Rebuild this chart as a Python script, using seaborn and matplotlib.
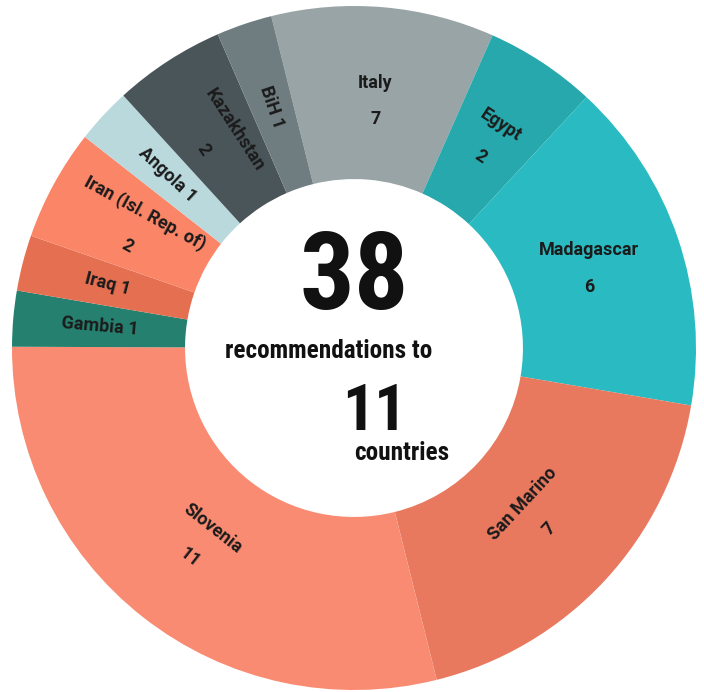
import matplotlib
matplotlib.use("Agg")
import matplotlib.pyplot as plt
import seaborn as sns
import numpy as np

# ---- data ----
countries = ["Italy", "Egypt", "Madagascar", "San Marino", "Slovenia", "Gambia",
             "Iraq", "Iran (Isl. Rep. of)", "Angola", "Kazakhstan", "BiH"]
slice_sizes = [4, 2, 6, 7, 11, 1, 1, 2, 1, 2, 1]          # arc sizes
label_counts = [7, 2, 6, 7, 11, 1, 1, 2, 1, 2, 1]          # numbers printed on slices
two_line = [True, True, True, True, True, False, False, True, False, True, False]
orient = ["h", "t", "h", "t", "t", "r", "r", "r", "r", "r", "r"]
colors = ["#98A4A6", "#26A8AC", "#29BBC1", "#E8795F", "#F98B72", "#25806F",
          "#E46F51", "#FB8567", "#B9D9DD", "#4A555A", "#6F7C80"]
total_recs = "38"
total_countries = "11"

sns.set_theme(style="white")
plt.rcParams["font.family"] = ["Roboto Condensed", "Liberation Sans Narrow", "Roboto", "DejaVu Sans"]

fig = plt.figure(figsize=(7.04, 6.92), dpi=100)
ax = fig.add_axes([0, 0, 1, 1])
ax.axis("off")

inner = 0.494
wedges, _ = ax.pie(slice_sizes, colors=colors, startangle=104, counterclock=False,
                   radius=1.0, wedgeprops=dict(width=1 - inner, linewidth=0))

ax.set_xlim(-354 / 342, (704 - 354) / 342)
ax.set_ylim(-(692 - 348) / 342, 348 / 342)
ax.set_aspect("auto")

for w, name, n, tl, o in zip(wedges, countries, label_counts, two_line, orient):
    th = (w.theta1 + w.theta2) / 2
    rmid = 0.725 if tl else 0.745
    x = rmid * np.cos(np.radians(th))
    y = rmid * np.sin(np.radians(th))
    if o == "h":
        rot = 0
    elif o == "t":
        rot = th - 90
    else:
        rot = th
    rot = (rot + 180) % 360 - 180
    if rot > 90:
        rot -= 180
    elif rot < -90:
        rot += 180
    txt = f"{name}\n{n}" if tl else f"{name} {n}"
    ax.text(x, y, txt, rotation=rot, rotation_mode="anchor", ha="center", va="center",
            multialignment="center", linespacing=2.35, fontsize=13, fontweight="bold",
            color="#1b1b1b", family=["Roboto", "DejaVu Sans"])

# centre texts
def px(xp, yp):
    return ((xp - 354) / 342, (348 - yp) / 342)

ax.text(*px(354, 279), total_recs, ha="center", va="center", fontsize=78,
        fontweight="bold", color="#111111")
ax.text(*px(329, 351), "recommendations to", ha="center", va="center", fontsize=18.2,
        fontweight="bold", color="#111111")
ax.text(*px(374, 413), total_countries, ha="center", va="center", fontsize=46,
        fontweight="bold", color="#111111")
ax.text(*px(402, 453), "countries", ha="center", va="center", fontsize=18.2,
        fontweight="bold", color="#111111")

fig.savefig("out.png", dpi=100, facecolor="white")
